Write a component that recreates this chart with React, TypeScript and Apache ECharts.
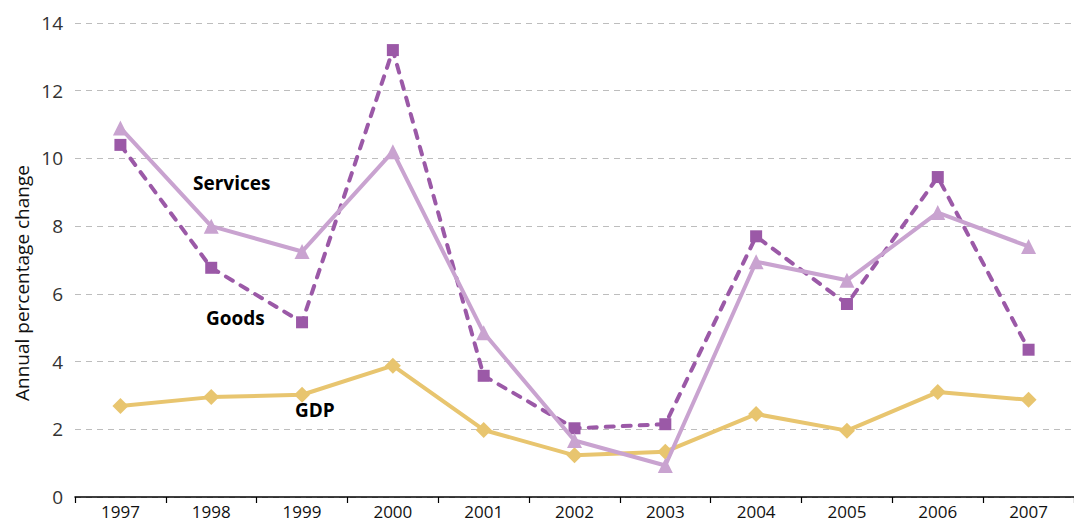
import React, { useEffect, useRef } from "react";
import * as echarts from "echarts";

const years = ["1997", "1998", "1999", "2000", "2001", "2002", "2003", "2004", "2005", "2006", "2007"];
const services = [10.9, 8.0, 7.25, 10.2, 4.85, 1.67, 0.93, 6.95, 6.4, 8.4, 7.4];
const goods = [10.4, 6.77, 5.16, 13.2, 3.58, 2.03, 2.15, 7.7, 5.7, 9.45, 4.35];
const gdp = [2.69, 2.95, 3.02, 3.88, 1.98, 1.23, 1.34, 2.45, 1.96, 3.1, 2.87];
const yTicks = { min: 0, max: 14, interval: 2 };

const FONT = "'Open Sans', 'Noto Sans', sans-serif";

export default function App() {
  const ref = useRef<HTMLDivElement>(null);
  useEffect(() => {
    if (!ref.current) return;
    const chart = echarts.init(ref.current, null, { renderer: "svg" });
    chart.setOption({
      animation: false,
      backgroundColor: "#ffffff",
      textStyle: { fontFamily: FONT },
      grid: { left: 75, top: 23, width: 1008, height: 474, containLabel: false },
      xAxis: {
        type: "category",
        data: years,
        boundaryGap: true,
        axisLine: { lineStyle: { color: "#000", width: 1.5 } },
        axisTick: { show: true, length: 6, inside: false, lineStyle: { color: "#000", width: 1.2 } },
        axisLabel: { color: "#111", fontSize: 17, margin: 6, fontFamily: FONT },
        splitLine: { show: false },
      },
      yAxis: {
        type: "value",
        min: yTicks.min,
        max: yTicks.max,
        interval: yTicks.interval,
        axisLine: { show: false },
        axisTick: { show: false },
        axisLabel: { color: "#333", fontSize: 19, margin: 12, fontFamily: FONT },
        splitLine: { show: true, lineStyle: { color: "#bdbdbd", type: [6, 5], width: 1.2 } },
      },
      series: [
        {
          name: "GDP",
          type: "line",
          data: gdp,
          symbol: "diamond",
          symbolSize: 16,
          lineStyle: { color: "#e8c56f", width: 4 },
          itemStyle: { color: "#e8c56f" },
          z: 2,
        },
        {
          name: "Goods",
          type: "line",
          data: goods,
          symbol: "rect",
          symbolSize: 12,
          lineStyle: { color: "#9b59a7", width: 4, type: [8, 9], cap: "round" },
          itemStyle: { color: "#9b59a7" },
          z: 3,
        },
        {
          name: "Services",
          type: "line",
          data: services,
          symbol: "triangle",
          symbolSize: 15,
          lineStyle: { color: "#c9a3d0", width: 4 },
          itemStyle: { color: "#c9a3d0" },
          z: 4,
        },
      ],
      graphic: [
        {
          type: "text",
          x: 22,
          y: 283,
          rotation: Math.PI / 2,
          style: {
            text: "Annual percentage change",
            font: `19px ${FONT}`,
            fill: "#111",
            textAlign: "center",
            textVerticalAlign: "middle",
          },
        },
        { type: "text", left: 193, top: 173, style: { text: "Services", font: `bold 19px ${FONT}`, fill: "#000" } },
        { type: "text", left: 206, top: 308, style: { text: "Goods", font: `bold 19px ${FONT}`, fill: "#000" } },
        { type: "text", left: 295, top: 400, style: { text: "GDP", font: `bold 19px ${FONT}`, fill: "#000" } },
      ],
    });
    return () => chart.dispose();
  }, []);
  return <div ref={ref} style={{ position: "absolute", left: 0, top: 0, width: 1074, height: 524 }} />;
}
